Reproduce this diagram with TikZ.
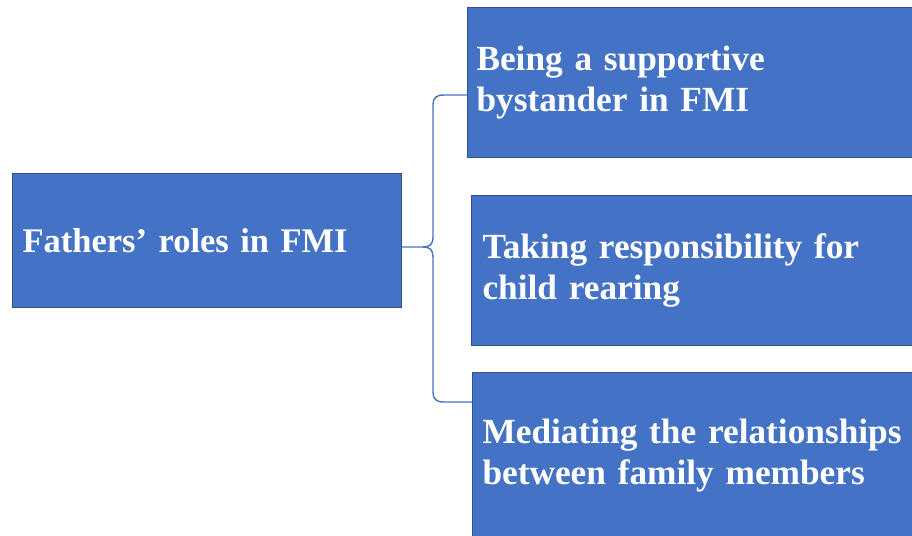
\documentclass[tikz,border=0pt]{standalone}
\usepackage{fontspec}
\setmainfont{Liberation Serif}
\definecolor{boxblue}{HTML}{4472C4}
\definecolor{boxedge}{HTML}{2F528F}
\begin{document}
\begin{tikzpicture}[x=1pt,y=-1pt,
  rolebox/.style={draw=boxedge, line width=1pt, fill=boxblue, text=white,
    font=\bfseries\fontsize{35.3}{41}\selectfont, align=left,
    inner ysep=0pt, anchor=north west},
  brace/.style={draw=boxblue, line width=1.4pt, line join=round}]
  \clip (0,0) rectangle (912,535);
  \fill[white] (0,0) rectangle (912,535);

  % central theme
  \node[rolebox, font=\bfseries\fontsize{34.5}{41}\selectfont,
        inner xsep=10pt, minimum width=389pt, minimum height=134pt,
        text width=369pt] (root) at (12,173) {Fathers’ roles in FMI};

  % the three roles
  \node[rolebox, inner xsep=9pt, minimum width=470pt, minimum height=150pt,
        text width=452pt] (r1) at (467,7) {Being a supportive\\bystander in FMI};
  \node[rolebox, inner xsep=11pt, minimum width=470pt, minimum height=150pt,
        text width=448pt] (r2) at (471,195) {Taking responsibility for\\child rearing};
  \node[rolebox, inner xsep=10pt, minimum width=470pt, minimum height=166pt,
        text width=450pt] (r3) at (472,372) {Mediating the relationships\\between family members};

  % curly brace joining the theme to its roles
  \coordinate (tip) at (423,247);
  \draw[brace] (root.east |- tip) -- (tip)
    .. controls (430,247) and (433,244) .. (433,237) -- (433,105)
    .. controls (433,98) and (436,95) .. (444,95) -- (r1.west |- 0,95);
  \draw[brace] (tip)
    .. controls (430,247) and (433,250) .. (433,257) -- (433,392)
    .. controls (433,399) and (436,402) .. (444,402) -- (r3.west |- 0,402);
\end{tikzpicture}
\end{document}
